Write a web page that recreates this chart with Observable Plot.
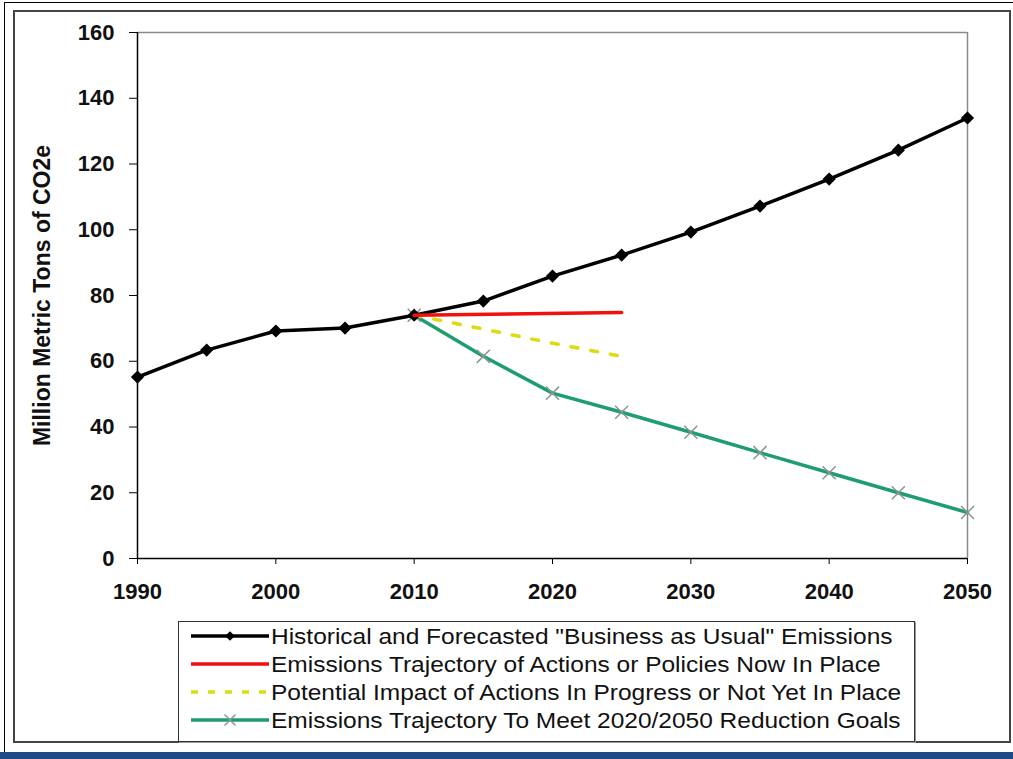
<!DOCTYPE html>
<html>
<head>
<meta charset="utf-8">
<script src="https://cdn.jsdelivr.net/npm/d3@7"></script>
<script src="https://cdn.jsdelivr.net/npm/@observablehq/plot@0.6"></script>
<style>
  html, body { margin: 0; padding: 0; background: #fff; }
  #page { position: relative; width: 1013px; height: 759px; overflow: hidden; font-family: "Liberation Sans", Arial, sans-serif; }
  #outer { position: absolute; left: 4px; top: 2px; width: 1020px; height: 760px; border: 1px solid #000; box-sizing: border-box; }
  #inner { position: absolute; left: 13px; top: 10px; width: 998px; height: 733px; border: 2px solid #444; box-sizing: border-box; }
  #band { position: absolute; left: 0; top: 752px; width: 1013px; height: 7px; background: #1d4b85; }
  #chart { position: absolute; left: 0; top: 0; }
  #legend { position: absolute; left: 178px; top: 621px; width: 737px; height: 121px; border: 1.5px solid #333; box-sizing: border-box; background: #fff; box-shadow: 1px 1px 0 #999; }
</style>
</head>
<body>
<div id="page">
  <div id="outer"></div>
  <div id="inner"></div>
  <div id="chart"></div>
  <div id="legend"></div>
  <div id="band"></div>
</div>
<script>
// ---- data ----
const years = [1990, 1995, 2000, 2005, 2010, 2015, 2020, 2025, 2030, 2035, 2040, 2045, 2050];
const businessAsUsual = [55.2, 63.4, 69.2, 70.1, 74.0, 78.3, 85.9, 92.3, 99.3, 107.2, 115.4, 124.2, 134.0];
const policyYears = [2010, 2025];
const policiesInPlace = [74.0, 74.8];
const potentialYears = [2010, 2015, 2020, 2025];
const potentialImpact = [74.0, 69.8, 65.5, 61.5];
const goalYears = [2010, 2015, 2020, 2025, 2030, 2035, 2040, 2045, 2050];
const reductionGoals = [74.0, 61.5, 50.3, 44.5, 38.4, 32.2, 26.1, 20.0, 14.0];
const xTicks = [1990, 2000, 2010, 2020, 2030, 2040, 2050];
const yTicks = [0, 20, 40, 60, 80, 100, 120, 140, 160];
const yLabel = "Million Metric Tons of CO2e";
const seriesNames = [
  'Historical and Forecasted "Business as Usual" Emissions',
  'Emissions Trajectory of Actions or Policies Now In Place',
  'Potential Impact of Actions In Progress or Not Yet In Place',
  'Emissions Trajectory To Meet 2020/2050 Reduction Goals'
];

const COL = { black: "#000000", red: "#f01010", yellow: "#dcdc10", green: "#1e9e6e", cross: "#8a9690" };

const bau = years.map((y, i) => ({year: y, v: businessAsUsual[i]}));
const pol = policyYears.map((y, i) => ({year: y, v: policiesInPlace[i]}));
const pot = potentialYears.map((y, i) => ({year: y, v: potentialImpact[i]}));
const goal = goalYears.map((y, i) => ({year: y, v: reductionGoals[i]}));

const chart = Plot.plot({
  width: 1013,
  height: 615,
  marginLeft: 137,
  marginRight: 46,
  marginTop: 32,
  marginBottom: 57,
  style: { fontFamily: "'Liberation Sans', Arial, sans-serif", background: "transparent", overflow: "visible" },
  x: { domain: [1990, 2050] },
  y: { domain: [0, 160] },
  marks: [
    Plot.ruleY([160], { stroke: "#8a8a8a", strokeWidth: 1.5 }),
    Plot.ruleX([2050], { stroke: "#8a8a8a", strokeWidth: 1.5 }),
    Plot.axisX({ ticks: xTicks, tickFormat: d => String(d), tickSize: 6, tickPadding: 19, fontSize: 22, fontWeight: "bold", stroke: "#000", fill: "#111", label: null }),
    Plot.axisY({ ticks: yTicks, tickSize: 8, tickPadding: 15, fontSize: 22, fontWeight: "bold", stroke: "#000", fill: "#111", label: null }),
    Plot.ruleY([0], { stroke: "#000", strokeWidth: 1.5 }),
    Plot.ruleX([1990], { stroke: "#000", strokeWidth: 1.5 }),
    Plot.text([yLabel], { frameAnchor: "left", textAnchor: "middle", rotate: -90, dx: -95, fontSize: 23, fontWeight: "bold", fill: "#111" }),
    Plot.line(goal, { x: "year", y: "v", stroke: COL.green, strokeWidth: 3.5 }),
    Plot.dot(goal, { x: "year", y: "v", symbol: "times", r: 6, stroke: COL.cross, strokeWidth: 1.5 }),
    Plot.line(pot, { x: "year", y: "v", stroke: COL.yellow, strokeWidth: 3.5, strokeDasharray: "7,13" }),
    Plot.line(bau, { x: "year", y: "v", stroke: COL.black, strokeWidth: 3.5 }),
    Plot.dot(bau, { x: "year", y: "v", symbol: "diamond2", r: 5, fill: COL.black, stroke: COL.black }),
    Plot.line(pol, { x: "year", y: "v", stroke: COL.red, strokeWidth: 3.5 })
  ]
});
document.getElementById("chart").appendChild(chart);

// ---- legend ----
const legendW = 737, legendH = 121;
const lsvg = d3.select("#legend").append("svg")
  .attr("width", legendW - 3).attr("height", legendH - 3)
  .style("position", "absolute").style("left", "0px").style("top", "0px");
const styles = [
  { stroke: COL.black, dash: null, marker: "diamond" },
  { stroke: COL.red, dash: null, marker: null },
  { stroke: COL.yellow, dash: "7,10", marker: null },
  { stroke: COL.green, dash: null, marker: "times" }
];
const rowY = i => 14 + i * 28;
const g = lsvg.selectAll("g").data(seriesNames).join("g").attr("transform", (d, i) => `translate(0,${rowY(i)})`);
g.append("line").attr("x1", 12).attr("x2", 90).attr("y1", 0).attr("y2", 0)
  .attr("stroke", (d, i) => styles[i].stroke).attr("stroke-width", 3.5)
  .attr("stroke-dasharray", (d, i) => styles[i].dash);
g.filter((d, i) => styles[i].marker === "diamond").append("path")
  .attr("d", d3.symbol(d3.symbolDiamond2, 60)()).attr("transform", "translate(51,0)").attr("fill", COL.black);
g.filter((d, i) => styles[i].marker === "times").append("path")
  .attr("d", d3.symbol(d3.symbolTimes, 80)()).attr("transform", "translate(51,0)").attr("stroke", COL.cross).attr("stroke-width", 1.5).attr("fill", "none");
const texts = g.append("text").attr("x", 92).attr("y", 0).attr("dy", "0.36em")
  .attr("font-family", "'Liberation Sans', Arial, sans-serif").attr("font-size", 22).attr("fill", "#111")
  .text(d => d);
// condense horizontally to match the reference's narrow lettering
const w0 = texts.nodes()[0].getComputedTextLength();
const sx = 622 / w0;
texts.attr("transform", `translate(92,0) scale(${sx},1) translate(-92,0)`);
</script>
</body>
</html>
